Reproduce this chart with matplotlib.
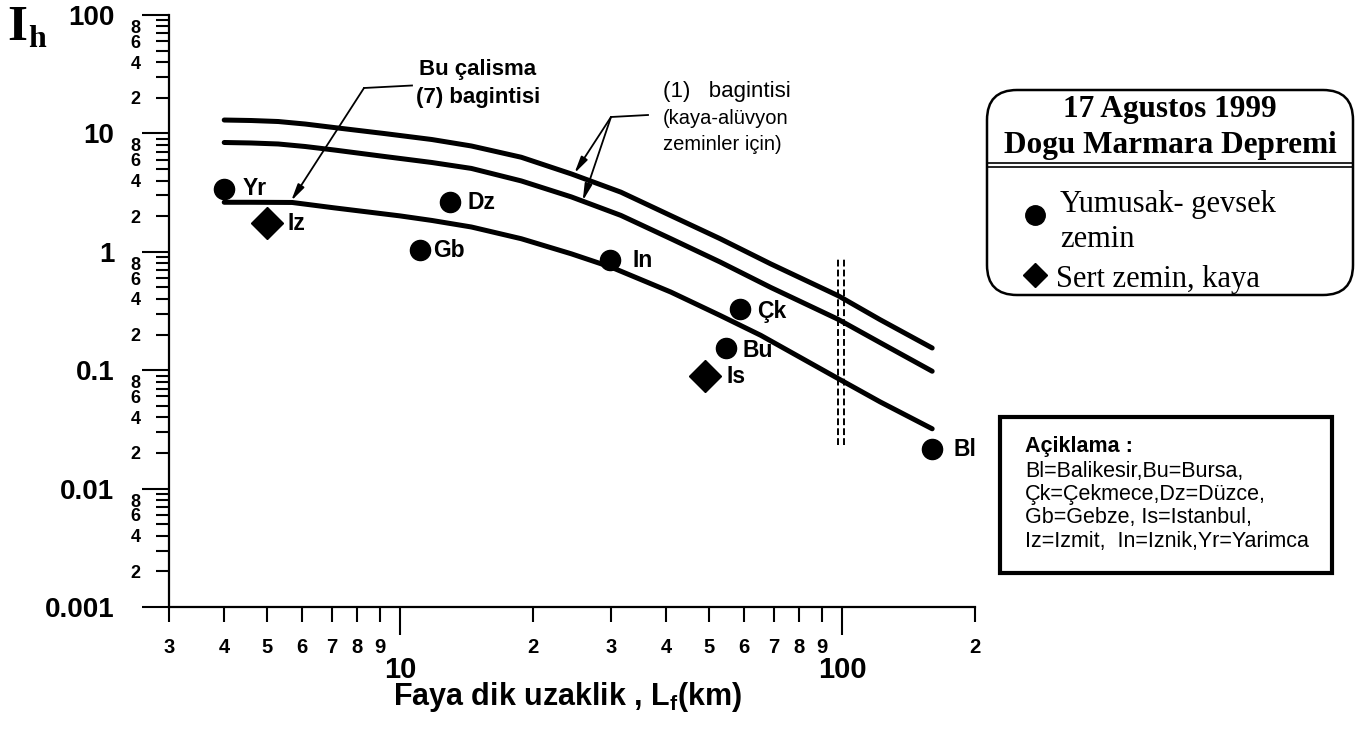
import matplotlib

matplotlib.use("Agg")
import matplotlib.pyplot as plt
from matplotlib.lines import Line2D
from matplotlib.patches import FancyBboxPatch, Rectangle
from matplotlib.ticker import FixedFormatter, FixedLocator

plt.rcParams["font.family"] = ["Liberation Sans", "DejaVu Sans"]
plt.rcParams["font.weight"] = "bold"
plt.rcParams["mathtext.default"] = "regular"

W, H = 1361, 731

# attenuation curves (L in km, Ih)
curve_L = [4.0, 4.6, 5.3, 6.1, 7.1, 9.2, 11.8, 14.5, 18.8, 24.4, 31.6, 41, 53, 69, 98, 122, 160]
upper_I = [12.97, 12.85, 12.6, 12.0, 11.2, 9.98, 8.88, 7.83, 6.29, 4.55, 3.19, 2.02, 1.29, 0.79, 0.426, 0.267, 0.154]
middle_I = [8.38, 8.30, 8.14, 7.75, 7.24, 6.39, 5.68, 5.06, 3.97, 2.91, 2.03, 1.29, 0.82, 0.50, 0.269, 0.171, 0.098]

study_L = [4.0, 4.6, 5.7, 7.1, 10.0, 11.8, 14.5, 18.8, 24.4, 30.0, 41, 53, 65.5, 98, 122, 160]
study_I = [2.62, 2.62, 2.61, 2.35, 2.01, 1.84, 1.62, 1.29, 0.962, 0.743, 0.457, 0.290, 0.197, 0.085, 0.054, 0.032]

# recording sites
site_names = ["Yr", "Iz", "Dz", "Gb", "In", "Çk", "Bu", "Is", "Bl"]
site_L = [4.0, 5.0, 13.0, 11.1, 29.9, 58.9, 54.7, 49.1, 160]
site_I = [3.4, 1.75, 2.62, 1.03, 0.85, 0.33, 0.155, 0.089, 0.0214]
site_rock = [False, True, False, False, False, False, False, True, False]

# vertical marker near 100 km
limit_L = [97.7, 101.2]
limit_I = [0.0233, 0.90]

x_minor = [3, 4, 5, 6, 7, 8, 9, 20, 30, 40, 50, 60, 70, 80, 90, 200]
x_minor_labels = ["3", "4", "5", "6", "7", "8", "9", "2", "3", "4", "5", "6", "7", "8", "9", "2"]
y_major = [0.001, 0.01, 0.1, 1, 10, 100]
y_major_labels = ["0.001", "0.01", "0.1", "1", "10", "100"]

legend_lines = ["Bl=Balikesir,Bu=Bursa,", "Çk=Çekmece,Dz=Düzce,",
                "Gb=Gebze, Is=Istanbul,", "Iz=Izmit,  In=Iznik,Yr=Yarimca"]


def fig_xy(x, y):
    """pixel position (from top-left) -> figure fraction"""
    return x / W, 1 - y / H


def inch_xy(x, y):
    return x / 100, (H - y) / 100


fig = plt.figure(figsize=(W / 100, H / 100), dpi=100)
ax = fig.add_axes([169 / W, (H - 607) / H, (975 - 169) / W, (607 - 15) / H])
ax.set_xscale("log")
ax.set_yscale("log")
ax.set_xlim(3, 200)
ax.set_ylim(0.001, 100)

for L, I in [(curve_L, upper_I), (curve_L, middle_I), (study_L, study_I)]:
    ax.plot(L, I, color="black", lw=3.6, solid_capstyle="round", solid_joinstyle="round")

for x in limit_L:
    ax.plot([x, x], limit_I, color="black", lw=1.4, linestyle=(0, (3.5, 1.6)))

label_offsets = {"Yr": (13, 0), "Iz": (15, 0), "Dz": (12, 0), "Gb": (9.5, 0), "In": (16, 0),
                 "Çk": (12, -2), "Bu": (12, -2), "Is": (15, 0), "Bl": (15, 0)}
for name, L, I, rock in zip(site_names, site_L, site_I, site_rock):
    if rock:
        ax.plot(L, I, marker="D", ms=16, color="black", ls="none")
    else:
        ax.plot(L, I, marker="o", ms=14.5, color="black", ls="none")
    ax.annotate(name, (L, I), xytext=label_offsets[name], textcoords="offset points",
                ha="left", va="center", fontsize=16.5)

# axes and ticks
for side in ["top", "right"]:
    ax.spines[side].set_visible(False)
for side in ["left", "bottom"]:
    ax.spines[side].set_linewidth(1.6)

ax.xaxis.set_major_locator(FixedLocator([10, 100]))
ax.xaxis.set_major_formatter(FixedFormatter(["10", "100"]))
ax.xaxis.set_minor_locator(FixedLocator(x_minor))
ax.xaxis.set_minor_formatter(FixedFormatter(x_minor_labels))

y_minor = []
y_minor_labels = []
for dec in y_major[:-1]:
    for k in range(2, 10):
        y_minor.append(k * dec)
        y_minor_labels.append(str(k) if k % 2 == 0 else "")
ax.yaxis.set_major_locator(FixedLocator(y_major))
ax.yaxis.set_major_formatter(FixedFormatter(y_major_labels))
ax.yaxis.set_minor_locator(FixedLocator(y_minor))
ax.yaxis.set_minor_formatter(FixedFormatter(y_minor_labels))

ax.tick_params(axis="x", which="major", direction="out", length=20, width=1.5, pad=15, labelsize=21)
ax.tick_params(axis="x", which="minor", direction="out", length=11, width=1.5, pad=11.5, labelsize=14.5)
ax.tick_params(axis="y", which="major", direction="out", length=19.5, width=1.5, pad=20, labelsize=20)
ax.tick_params(axis="y", which="minor", direction="out", length=9.5, width=1.5, pad=11, labelsize=13)

# axis titles
fig.text(*fig_xy(568, 705), "Faya dik uzaklik , L$_{f}$(km)", ha="center", va="baseline", fontsize=22)
fig.text(*fig_xy(7, 40), "I", ha="left", va="baseline", fontsize=37, family="Liberation Serif")
fig.text(*fig_xy(28, 47), "h", ha="left", va="baseline", fontsize=23, family="Liberation Serif")

# "Bu calisma" note
fig.text(*fig_xy(478, 70), "Bu çalisma", ha="center", va="center", fontsize=16)
fig.text(*fig_xy(478, 98), "(7) bagintisi", ha="center", va="center", fontsize=16)
fig.add_artist(Line2D(*zip(fig_xy(412, 85.5), fig_xy(364, 88)), transform=fig.transFigure, color="black", lw=1.3))
arrow = dict(arrowstyle="-|>,head_length=1.0,head_width=0.22", color="black", lw=1.3, shrinkA=0, shrinkB=0)
ax.annotate("", xy=(5.67, 2.69), xytext=fig_xy(364, 88), textcoords="figure fraction", arrowprops=arrow)

# "(1) bagintisi" note
fig.text(*fig_xy(663, 92), "(1)   bagintisi", ha="left", va="center", fontsize=16, fontweight="normal")
fig.text(*fig_xy(663, 118), "(kaya-alüvyon", ha="left", va="center", fontsize=14.5, fontweight="normal")
fig.text(*fig_xy(663, 145), "zeminler için)", ha="left", va="center", fontsize=14.5, fontweight="normal")
fig.add_artist(Line2D(*zip(fig_xy(648, 115), fig_xy(611, 117)), transform=fig.transFigure, color="black", lw=1.3))
ax.annotate("", xy=(24.8, 4.6), xytext=fig_xy(611, 117), textcoords="figure fraction", arrowprops=arrow)
ax.annotate("", xy=(25.9, 2.69), xytext=fig_xy(611, 117), textcoords="figure fraction", arrowprops=arrow)

# earthquake / soil legend box
x0, y0 = inch_xy(987, 295)
fig.add_artist(FancyBboxPatch((x0, y0), 3.66, 2.05, boxstyle="round,pad=0,rounding_size=0.3",
                              transform=fig.dpi_scale_trans, facecolor="white", edgecolor="black", lw=1.8))
for yy in [162.5, 167]:
    fig.add_artist(Line2D(*zip(fig_xy(987, yy), fig_xy(1353, yy)), transform=fig.transFigure, color="black", lw=1.2))
fig.text(*fig_xy(1170, 110), "17 Agustos 1999", ha="center", va="center", fontsize=22.5, family="Liberation Serif")
fig.text(*fig_xy(1170, 146), "Dogu Marmara Depremi", ha="center", va="center", fontsize=22.5, family="Liberation Serif")
fig.add_artist(Line2D([fig_xy(1035, 215)[0]], [fig_xy(1035, 215)[1]], transform=fig.transFigure,
                      marker="o", ms=14, color="black", ls="none"))
fig.add_artist(Line2D([fig_xy(1035, 275)[0]], [fig_xy(1035, 275)[1]], transform=fig.transFigure,
                      marker="D", ms=12.5, color="black", ls="none"))
fig.text(*fig_xy(1060, 211.7), "Yumusak- gevsek", ha="left", va="baseline", fontsize=22,
         family="Liberation Serif", fontweight="normal")
fig.text(*fig_xy(1060, 246.7), "zemin", ha="left", va="baseline", fontsize=22,
         family="Liberation Serif", fontweight="normal")
fig.text(*fig_xy(1056, 286.7), "Sert zemin, kaya", ha="left", va="baseline", fontsize=22,
         family="Liberation Serif", fontweight="normal")

# abbreviation box
x0, y0 = inch_xy(1000, 573)
fig.add_artist(Rectangle((x0, y0), 3.32, 1.56, transform=fig.dpi_scale_trans,
                         facecolor="white", edgecolor="black", lw=3))
fig.text(*fig_xy(1025, 451.7), "Açiklama :", ha="left", va="baseline", fontsize=15.5)
for i, line in enumerate(legend_lines):
    fig.text(*fig_xy(1025, 476.7 + 23.3 * i), line, ha="left", va="baseline", fontsize=15.5, fontweight="normal")

plt.savefig("out.png", dpi=100)
plt.close()
